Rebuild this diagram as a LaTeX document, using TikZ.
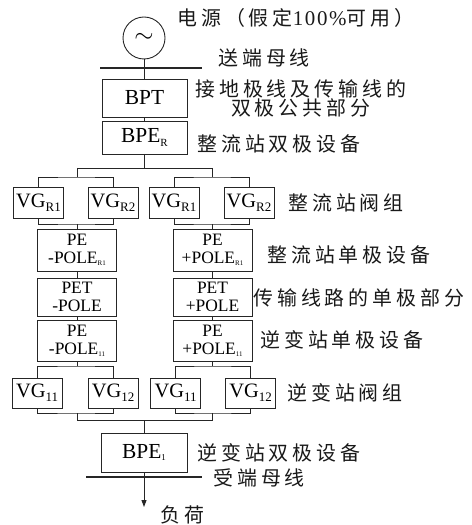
\documentclass[tikz,border=0pt]{standalone}
\usepackage{fontspec}
\setmainfont{Liberation Serif}
\newfontfamily\cjk[LetterSpace=20]{Noto Sans CJK SC}
\newfontfamily\spnum[LetterSpace=8]{Liberation Serif}
\usetikzlibrary{arrows.meta, positioning}
\newcommand\lowidx[2]{{\fontsize{#1}{#1}\selectfont\raisebox{-0.28em}{#2}}}

\tikzset{
  blk/.style={draw=black!85, line width=0.9bp, inner sep=0pt, align=center},
  bigbox/.style={blk, minimum width=85bp, font=\fontsize{21.5}{21.5}\selectfont},
  vgbox/.style={blk, minimum width=50bp, minimum height=31bp, font=\fontsize{20.5}{20.5}\selectfont},
  pebox/.style={blk, minimum width=79bp, font=\fontsize{17.5}{18}\selectfont},
  lbl/.style={anchor=west, inner sep=0pt, align=center, text=black!90,
    font=\fontsize{20}{18}\selectfont\cjk},
  wire/.style={draw=black!85, line width=0.9bp},
  bus/.style={draw=black!85, line width=2.8bp},
}

\begin{document}
\begin{tikzpicture}[x=1bp, y=-1bp]
    \useasboundingbox (0,0) rectangle (472,525);

    % Source and sending bus
    \node[blk, circle, minimum size=42bp] (src) at (144,38)
        {\fontsize{26}{26}\selectfont$\sim$};
    \coordinate (sbusL) at (100,68);
    \coordinate (sbusR) at (202,68);
    \draw[bus] (sbusL) -- (sbusR);

    % Bipole parts
    \node[bigbox, minimum height=38bp] (bpt) at (144.5,98) {BPT};
    \node[bigbox, minimum height=33bp] (bper) at (144.5,137.5) {BPE\lowidx{11}{R}};
    \node[bigbox, minimum width=86bp, minimum height=39bp] (bpei) at (144,452.5)
        {BPE\lowidx{9}{1}};

    % Levels of the group wires
    \coordinate (bpdrop) at (144,154);
    \coordinate (ry0) at (0,168);
    \coordinate (ry1) at (0,177);
    \coordinate (ry2) at (0,224);
    \coordinate (iy1) at (0,366);
    \coordinate (iy2) at (0,413);
    \coordinate (iy0) at (0,420);

    % Valve groups
    \node[vgbox] (vgrA1) at (38.5,202.5) {VG\lowidx{13}{R1}};
    \node[vgbox] (vgrA2) at (113,202.5) {VG\lowidx{13}{R2}};
    \node[vgbox] (vgrB1) at (174,202.5) {VG\lowidx{13}{R1}};
    \node[vgbox] (vgrB2) at (249,202.5) {VG\lowidx{13}{R2}};
    \node[vgbox, minimum height=30bp] (vgiA1) at (37,393) {VG\lowidx{13}{11}};
    \node[vgbox, minimum height=30bp] (vgiA2) at (113,393) {VG\lowidx{13}{12}};
    \node[vgbox, minimum height=30bp] (vgiB1) at (175.5,393) {VG\lowidx{13}{11}};
    \node[vgbox, minimum height=30bp] (vgiB2) at (250.5,393) {VG\lowidx{13}{12}};

    % Pole parts
    \node[pebox, minimum height=42bp] (peA1) at (77,250) {PE\\-POLE\lowidx{7}{R1}};
    \node[pebox, minimum height=38bp] (petA) at (77,297) {PET\\-POLE};
    \node[pebox, minimum height=41bp] (peA2) at (77,340.5) {PE\\-POLE\lowidx{7}{11}};
    \node[pebox, minimum height=42bp] (peB1) at (212.5,250) {PE\\+POLE\lowidx{7}{R1}};
    \node[pebox, minimum height=38bp] (petB) at (212.5,297) {PET\\+POLE};
    \node[pebox, minimum height=41bp] (peB2) at (212.5,340.5) {PE\\+POLE\lowidx{7}{11}};

    % Receiving bus and load
    \coordinate (rbusL) at (86,477);
    \coordinate (rbusR) at (202,477);
    \coordinate (loadpt) at (144,507);

    % Wires
    \draw[wire] (src) -- (src |- sbusL);
    \draw[wire] (bpt.north |- sbusL) -- (bpt);
    \draw[wire] (bpt) -- (bper);
    \draw[wire] (bpdrop) -- (bpdrop |- ry0);
    \draw[wire] (peA1.north |- ry0) -- (peB1.north |- ry0);
    \foreach \c in {A,B} {
        \draw[wire] (pe\c1.north |- ry0) -- (pe\c1.north |- ry1);
        \draw[wire] (vgr\c1.north) |- (pe\c1.north |- ry1) -| (vgr\c2.north);
        \draw[wire] (vgr\c1.south) |- (pe\c1.north |- ry2) -| (vgr\c2.south);
        \draw[wire] (pe\c1.north |- ry2) -- (pe\c1.north);
        \draw[wire] (pe\c1) -- (pet\c);
        \draw[wire] (pet\c) -- (pe\c2);
        \draw[wire] (pe\c2.south) -- (pe\c2.south |- iy1);
        \draw[wire] (vgi\c1.north) |- (pe\c2.south |- iy1) -| (vgi\c2.north);
        \draw[wire] (vgi\c1.south) |- (pe\c2.south |- iy2) -| (vgi\c2.south);
        \draw[wire] (pe\c2.south |- iy2) -- (pe\c2.south |- iy0);
    }
    \draw[wire] (peA2.south |- iy0) -- (peB2.south |- iy0);
    \draw[wire] (bpei.north |- iy0) -- (bpei);
    \draw[bus] (rbusL) -- (rbusR);
    \draw[wire, -{Triangle[length=7bp, width=5bp]}] (bpei.south) -- (loadpt);

    % Labels
    \node[lbl] (srclbl) at (177,18) {电源（假定{\spnum\fontsize{21}{21}\selectfont 100\%}可用）};
    \node[lbl] (sbuslbl) at (218,58) {送端母线};
    \node[lbl] (bptlbl) at (195,98.5) {接地极线及传输线的\\双极公共部分};
    \node[lbl] (bperlbl) at (197,144) {整流站双极设备};
    \node[lbl] (vgrlbl) at (288,203) {整流站阀组};
    \node[lbl] (pe1lbl) at (267,255) {整流站单极设备};
    \node[lbl] (petlbl) at (253,298) {传输线路的单极部分};
    \node[lbl] (pe2lbl) at (260,340) {逆变站单极设备};
    \node[lbl] (vgilbl) at (287,393) {逆变站阀组};
    \node[lbl] (bpeilbl) at (197,453) {逆变站双极设备};
    \node[lbl] (rbuslbl) at (213,478) {受端母线};
    \node[lbl] (loadlbl) at (160,515) {负荷};
\end{tikzpicture}
\end{document}
